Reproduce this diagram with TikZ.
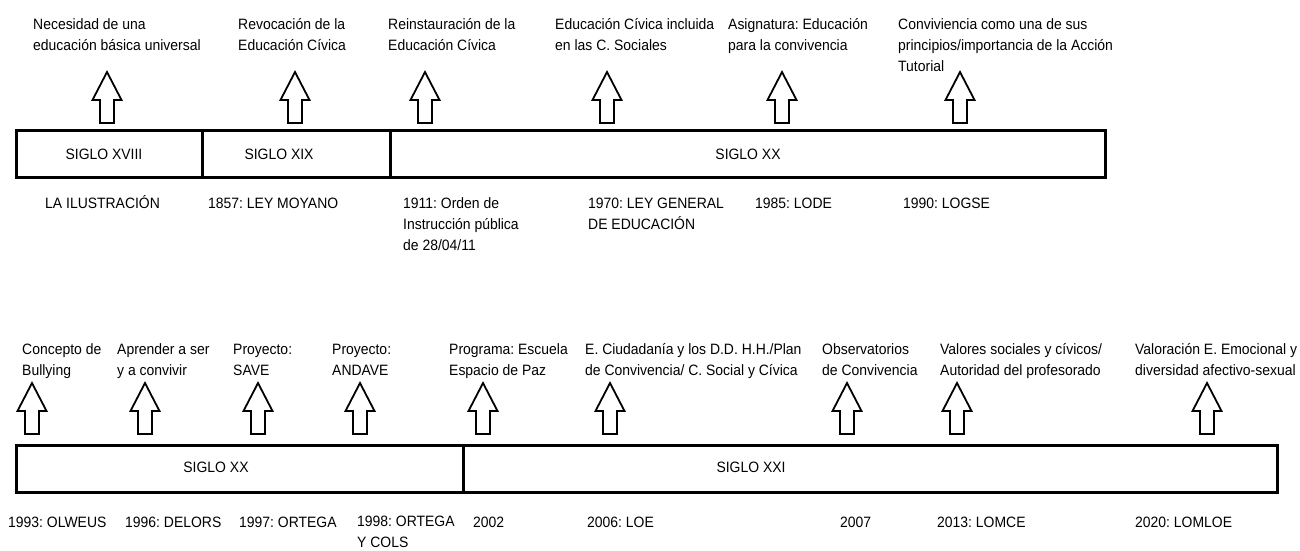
\documentclass[tikz,border=0pt]{standalone}
\usepackage{fontspec}
\setmainfont{Liberation Sans}[FakeStretch=0.93]
\usetikzlibrary{positioning}
\frenchspacing

\begin{document}
\begin{tikzpicture}[
    x=1pt, y=-1pt,
    font=\fontsize{15}{21}\selectfont,
    periodo/.style={draw, line width=3pt, rectangle, outer sep=0pt, inner sep=0pt, minimum height=47pt, anchor=north west},
    siglo/.style={inner sep=0pt, anchor=center},
    hecho/.style={inner sep=0pt, anchor=base west, align=left},
    ley/.style={inner sep=0pt, anchor=base west, align=left},
    hito/.pic={\draw[line width=1.8pt, line join=miter, fill=white] (0,0) -- ++(14.5,28) -- ++(-7.5,0) -- ++(0,23) -- ++(-14,0) -- ++(0,-23) -- ++(-7.5,0) -- cycle;}
]
\useasboundingbox (0,0) rectangle (1300,550);

% Linea temporal superior
\node (s18) [periodo, minimum width=186pt] at (16,130) {};
\node (s19) [periodo, minimum width=188pt, right=0pt of s18.north east, anchor=north west] {};
\node (s20) [periodo, minimum width=715pt, right=0pt of s19.north east, anchor=north west] {};

\node (t18) [siglo] at (104,154) {SIGLO XVIII};
\node (t19) [siglo] at (279,154) {SIGLO XIX};
\node (t20) [siglo] at (748,154) {SIGLO XX};

% Flechas superiores
\pic at (107,72) {hito};
\pic at (295,72) {hito};
\pic at (425,72) {hito};
\pic at (607,72) {hito};
\pic at (782,72) {hito};
\pic at (960,72) {hito};

% Hechos superiores (base = ultima linea)
\node (necesidad) [hecho] at (33,50) {Necesidad de una\\educación básica universal};
\node (revocacion) [hecho] at (238,50) {Revocación de la\\Educación Cívica};
\node (reinstauracion) [hecho] at (388,50) {Reinstauración de la\\Educación Cívica};
\node (sociales) [hecho] at (555,50) {Educación Cívica incluida\\en las C. Sociales};
\node (asignatura) [hecho] at (728,50) {Asignatura: Educación\\para la convivencia};
\node (tutorial) [hecho] at (898,71) {Conviviencia como una de sus\\principios/importancia de la Acción\\Tutorial};

% Leyes superiores
\node (ilustracion) [ley] at (45,208) {LA ILUSTRACIÓN};
\node (moyano) [ley] at (208,208) {1857: LEY MOYANO};
\node (orden) [ley] at (403,250) {1911: Orden de\\Instrucción pública\\de 28/04/11};
\node (lge) [ley] at (588,229) {1970: LEY GENERAL\\DE EDUCACIÓN};
\node (lode) [ley] at (755,208) {1985: LODE};
\node (logse) [ley] at (903,208) {1990: LOGSE};

% Linea temporal inferior
\node (b20) [periodo, minimum width=447pt] at (16,445) {};
\node (b21) [periodo, minimum width=814pt, right=0pt of b20.north east, anchor=north west] {};

\node (u20) [siglo] at (216,467) {SIGLO XX};
\node (u21) [siglo] at (751,467) {SIGLO XXI};

% Flechas inferiores
\pic at (32,383) {hito};
\pic at (145,383) {hito};
\pic at (258,383) {hito};
\pic at (360,383) {hito};
\pic at (483,383) {hito};
\pic at (610,383) {hito};
\pic at (847,383) {hito};
\pic at (957,383) {hito};
\pic at (1207,383) {hito};

% Hechos inferiores
\node (bullying) [hecho] at (22,375) {Concepto de\\Bullying};
\node (aprender) [hecho] at (117,375) {Aprender a ser\\y a convivir};
\node (save) [hecho] at (233,375) {Proyecto:\\SAVE};
\node (andave) [hecho] at (332,375) {Proyecto:\\ANDAVE};
\node (paz) [hecho] at (449,375) {Programa: Escuela\\Espacio de Paz};
\node (ciudadania) [hecho] at (585,375) {E. Ciudadanía y los D.D. H.H./Plan\\de Convivencia/ C. Social y Cívica};
\node (observatorios) [hecho] at (822,375) {Observatorios\\de Convivencia};
\node (valores) [hecho] at (940,375) {Valores sociales y cívicos/\\Autoridad del profesorado};
\node (emocional) [hecho] at (1135,375) {Valoración E. Emocional y\\diversidad afectivo-sexual};

% Leyes inferiores
\node (olweus) [ley] at (8,527) {1993: OLWEUS};
\node (delors) [ley] at (125,527) {1996: DELORS};
\node (ortega) [ley] at (239,527) {1997: ORTEGA};
\node (cols) [ley] at (357,547) {1998: ORTEGA\\Y COLS};
\node (prog) [ley] at (473,527) {2002};
\node (loe) [ley] at (587,527) {2006: LOE};
\node (obs) [ley] at (840,527) {2007};
\node (lomce) [ley] at (937,527) {2013: LOMCE};
\node (lomloe) [ley] at (1135,527) {2020: LOMLOE};

\end{tikzpicture}
\end{document}
